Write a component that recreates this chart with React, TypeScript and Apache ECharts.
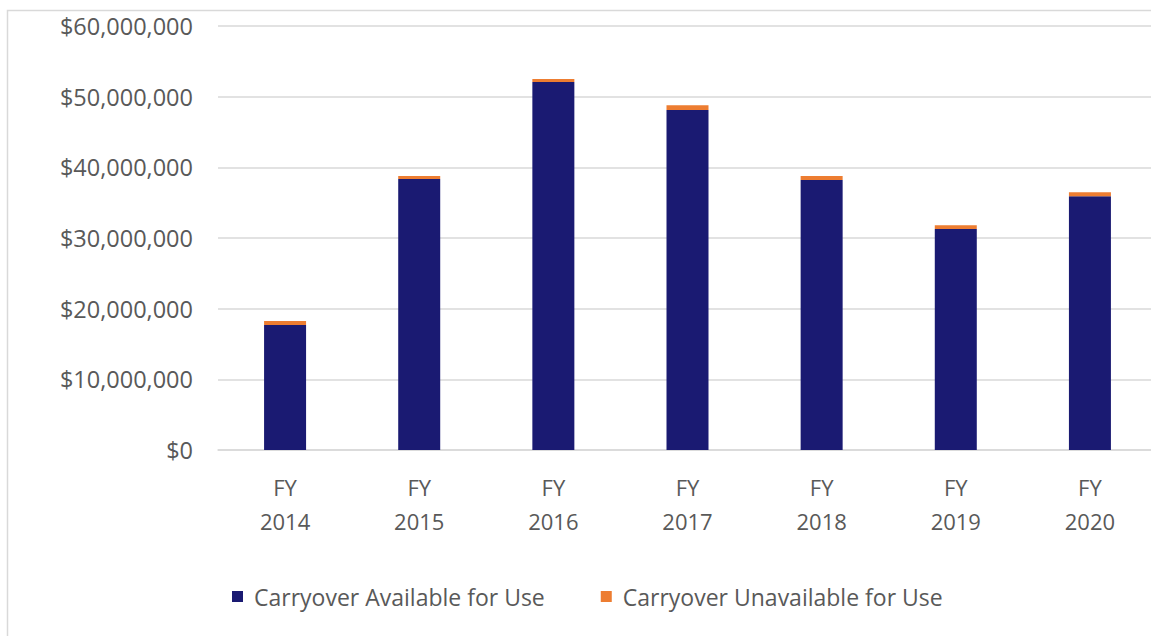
import React, { useEffect, useRef } from "react";
import * as echarts from "echarts";

const categories = ["FY\n2014", "FY\n2015", "FY\n2016", "FY\n2017", "FY\n2018", "FY\n2019", "FY\n2020"];
const available = [17700000, 38350000, 52070000, 48100000, 38200000, 31270000, 35900000];
const unavailable = [550000, 420000, 430000, 680000, 570000, 530000, 570000];

const FONT = "'Open Sans', 'Noto Sans', sans-serif";

export default function App() {
  const ref = useRef<HTMLDivElement>(null);
  useEffect(() => {
    const chart = echarts.init(ref.current!, undefined, { renderer: "svg" });
    chart.setOption({
      animation: false,
      graphic: [
        {
          type: "rect",
          shape: { x: 7.5, y: 10.5, width: 1200, height: 700 },
          style: { fill: "none", stroke: "#d9d9d9", lineWidth: 1.5 },
          silent: true,
        },
      ],
      grid: {
        left: 218,
        width: 939,
        top: 26,
        height: 424,
        containLabel: false,
        outerBoundsMode: "none",
      },
      xAxis: {
        type: "category",
        data: categories,
        axisLine: { show: true, lineStyle: { color: "#d9d9d9", width: 1.5 } },
        axisTick: { show: false },
        axisLabel: {
          color: "#595959",
          fontFamily: FONT,
          fontSize: 22,
          lineHeight: 34,
          margin: 20,
        },
      },
      yAxis: {
        type: "value",
        min: 0,
        max: 60000000,
        interval: 10000000,
        axisLine: { show: false },
        axisTick: { show: false },
        splitLine: { lineStyle: { color: "#d9d9d9", width: 1.5 } },
        axisLabel: {
          color: "#595959",
          fontFamily: FONT,
          fontSize: 23.5,
          margin: 25,
          formatter: (v: number) => "$" + v.toLocaleString("en-US"),
        },
      },
      legend: {
        bottom: 28,
        left: 232,
        padding: 0,
        itemWidth: 11,
        itemHeight: 11,
        itemGap: 56,
        icon: "rect",
        textStyle: { color: "#595959", fontFamily: FONT, fontSize: 23, padding: [0, 0, 0, 6] },
        data: ["Carryover Available for Use", "Carryover Unavailable for Use"],
      },
      series: [
        {
          name: "Carryover Available for Use",
          type: "bar",
          stack: "total",
          barWidth: 42,
          data: available,
          itemStyle: { color: "#1a1a72" },
        },
        {
          name: "Carryover Unavailable for Use",
          type: "bar",
          stack: "total",
          barWidth: 42,
          data: unavailable,
          itemStyle: { color: "#ed7d31" },
        },
      ],
    });
    return () => chart.dispose();
  }, []);
  return (
    <div
      ref={ref}
      style={{ position: "absolute", left: 0, top: 0, width: 1151, height: 636, background: "#fff" }}
    />
  );
}
